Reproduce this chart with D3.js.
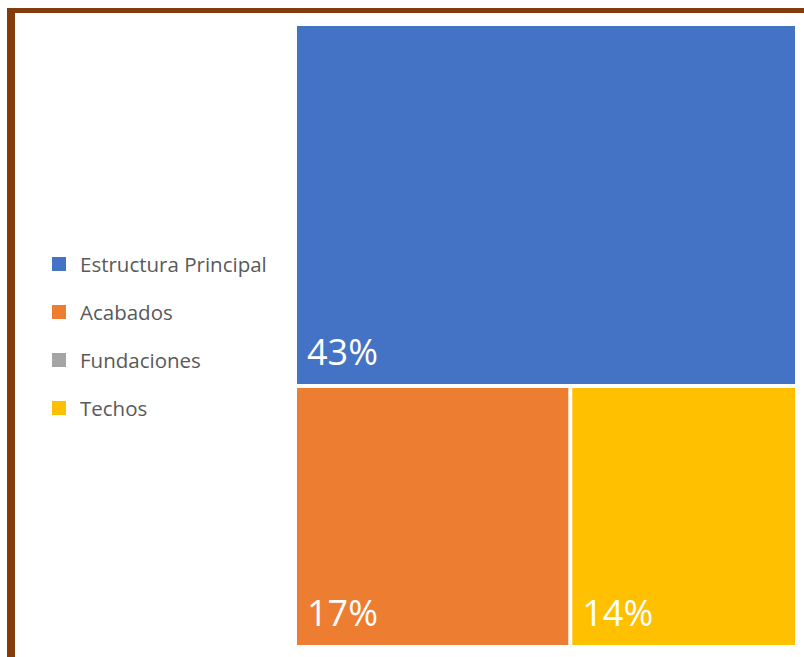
<!DOCTYPE html>
<html>
<head>
<meta charset="utf-8">
<script src="https://cdn.jsdelivr.net/npm/d3@7"></script>
<style>
  body { margin: 0; background: #fff; }
  svg { display: block; }
</style>
</head>
<body>
<div id="chart"></div>
<script>
// data
var categories = ["Estructura Principal", "Acabados", "Fundaciones", "Techos"];
var shares = [43, 17, 0, 14];
var colors = ["#4472C4", "#ED7D31", "#A5A5A5", "#FFC000"];

var width = 804, height = 657;

var svg = d3.select("#chart")
  .append("svg")
  .attr("width", width)
  .attr("height", height);

// brown frame (left and top only visible)
svg.append("rect")
  .attr("x", 7).attr("y", 8)
  .attr("width", width).attr("height", 5)
  .attr("fill", "#843C0C");
svg.append("rect")
  .attr("x", 7).attr("y", 8)
  .attr("width", 8).attr("height", height)
  .attr("fill", "#843C0C");

// treemap
var rows = categories.map((c, i) => ({name: c, value: shares[i], color: colors[i]}))
  .filter(d => d.value > 0);

var root = d3.hierarchy({children: rows})
  .sum(d => d.value || 0);

d3.treemap()
  .size([502, 623])
  .paddingInner(0)
  .tile(d3.treemapSquarify.ratio(1))(root);

var g = svg.append("g")
  .attr("transform", "translate(295,24)");

var cell = g.selectAll("g.cell")
  .data(root.leaves())
  .join("g")
  .attr("class", "cell")
  .attr("transform", d => "translate(" + d.x0 + "," + d.y0 + ")");

cell.append("rect")
  .attr("x", 2).attr("y", 2)
  .attr("width", d => d.x1 - d.x0 - 4)
  .attr("height", d => d.y1 - d.y0 - 4)
  .attr("fill", d => d.data.color);

cell.append("text")
  .attr("x", 12)
  .attr("y", d => d.y1 - d.y0 - 21)
  .attr("fill", "#fff")
  .style("font-family", "'Open Sans', sans-serif")
  .style("font-size", "36px")
  .text(d => d.data.value + "%");

// legend
var legend = svg.append("g")
  .attr("transform", "translate(52,264)");

var item = legend.selectAll("g")
  .data(categories)
  .join("g")
  .attr("transform", (d, i) => "translate(0," + i * 48 + ")");

item.append("rect")
  .attr("x", 0).attr("y", -7)
  .attr("width", 14).attr("height", 14)
  .attr("fill", (d, i) => colors[i]);

item.append("text")
  .attr("x", 28)
  .attr("y", 8)
  .attr("fill", "#595959")
  .style("font-family", "'Open Sans', sans-serif")
  .style("font-size", "20.5px")
  .text(d => d);
</script>
</body>
</html>
